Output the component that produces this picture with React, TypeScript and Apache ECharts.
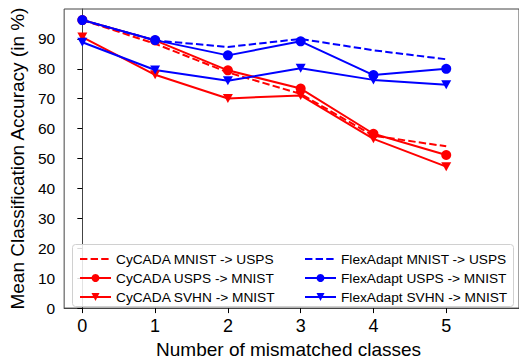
import React, { useEffect, useRef } from "react";
import * as echarts from "echarts";

const xValues = [0, 1, 2, 3, 4, 5];
const cycadaMnistUsps = [96.3, 88.4, 78.8, 71.6, 57.6, 54.1];
const cycadaUspsMnist = [96.3, 89.5, 79.5, 73.4, 58.3, 51.2];
const cycadaSvhnMnist = [90.6, 78.0, 70.1, 71.1, 56.6, 47.3];
const flexMnistUsps = [96.3, 89.5, 87.3, 90.0, 86.2, 83.2];
const flexUspsMnist = [96.3, 89.6, 84.5, 89.2, 77.9, 80.0];
const flexSvhnMnist = [88.9, 79.6, 76.0, 80.2, 76.3, 74.7];
const yTicks = [0, 10, 20, 30, 40, 50, 60, 70, 80, 90];

const FONT = "Liberation Sans, Arial, sans-serif";
const TRI = "path://M0,0 L10,0 L5,9 Z";
const DASH = [7.4, 3.2];

export default function App() {
  const ref = useRef<HTMLDivElement>(null);
  useEffect(() => {
    if (!ref.current) return;
    const chart = echarts.init(ref.current, null, { renderer: "svg" });
    const pts = (arr: number[]) => arr.map((v, i) => [xValues[i], v]);
    const mk = (name: string, data: number[], color: string, dashed: boolean, symbol: string) => ({
      name,
      type: "line",
      data: pts(data),
      symbol,
      symbolSize: symbol === TRI ? [10, 9] : 10,
      showSymbol: symbol !== "none",
      lineStyle: { color, width: 2, type: dashed ? DASH : "solid" },
      itemStyle: { color },
      z: 2,
    });
    const legendItem = (name: string, dashed: boolean) =>
      dashed ? { name, itemStyle: { opacity: 0 } } : { name };
    const legendCommon = {
      top: 247,
      orient: "vertical",
      itemWidth: 31,
      itemHeight: 10,
      itemGap: 5,
      textStyle: { color: "#000", fontSize: 13.7, fontFamily: FONT },
    };
    chart.setOption({
      animation: false,
      grid: { left: 63, top: 9, right: -3, bottom: 50, show: true, borderColor: "#444", borderWidth: 1 },
      xAxis: {
        type: "value",
        min: -0.25,
        max: 6,
        splitLine: { show: false },
        axisLine: { show: true, onZero: false, lineStyle: { color: "#444" } },
        axisTick: { show: true, length: 5, lineStyle: { color: "#000" }, customValues: xValues },
        axisLabel: { color: "#000", fontSize: 18, fontFamily: FONT, margin: 9, customValues: xValues },
        name: "Number of mismatched classes",
        nameLocation: "middle",
        nameGap: 31,
        nameTextStyle: { color: "#000", fontSize: 19, fontFamily: FONT, padding: [0, 6, 0, 0] },
      },
      yAxis: {
        type: "value",
        min: 0,
        max: 100,
        splitLine: { show: false },
        axisLine: { show: true, lineStyle: { color: "#444" } },
        axisTick: { show: true, length: 5, lineStyle: { color: "#000" }, customValues: yTicks },
        axisLabel: { color: "#000", fontSize: 15.5, fontFamily: FONT, margin: 9, customValues: yTicks },
        name: "Mean Classification Accuracy (in %)",
        nameLocation: "middle",
        nameGap: 35,
        nameTextStyle: { color: "#000", fontSize: 19, fontFamily: FONT },
      },
      legend: [
        {
          ...legendCommon,
          left: 74,
          data: [
            legendItem("CyCADA MNIST -> USPS", true),
            legendItem("CyCADA USPS -> MNIST", false),
            legendItem("CyCADA SVHN -> MNIST", false),
          ],
        },
        {
          ...legendCommon,
          left: 299,
          data: [
            legendItem("FlexAdapt MNIST -> USPS", true),
            legendItem("FlexAdapt USPS -> MNIST", false),
            legendItem("FlexAdapt SVHN -> MNIST", false),
          ],
        },
      ],
      graphic: [
        {
          type: "rect",
          shape: { x: 72.5, y: 244.5, width: 441, height: 62, r: 3 },
          style: { fill: "rgba(255,255,255,0.85)", stroke: "#d0d0d0", lineWidth: 1 },
          z: 3,
        },
      ],
      series: [
        mk("CyCADA MNIST -> USPS", cycadaMnistUsps, "#ff0000", true, "none"),
        mk("CyCADA USPS -> MNIST", cycadaUspsMnist, "#ff0000", false, "circle"),
        mk("CyCADA SVHN -> MNIST", cycadaSvhnMnist, "#ff0000", false, TRI),
        mk("FlexAdapt MNIST -> USPS", flexMnistUsps, "#0000ff", true, "none"),
        mk("FlexAdapt USPS -> MNIST", flexUspsMnist, "#0000ff", false, "circle"),
        mk("FlexAdapt SVHN -> MNIST", flexSvhnMnist, "#0000ff", false, TRI),
      ],
    });
    return () => chart.dispose();
  }, []);
  return <div ref={ref} style={{ position: "absolute", left: 0, top: 0, width: 519, height: 364 }} />;
}
